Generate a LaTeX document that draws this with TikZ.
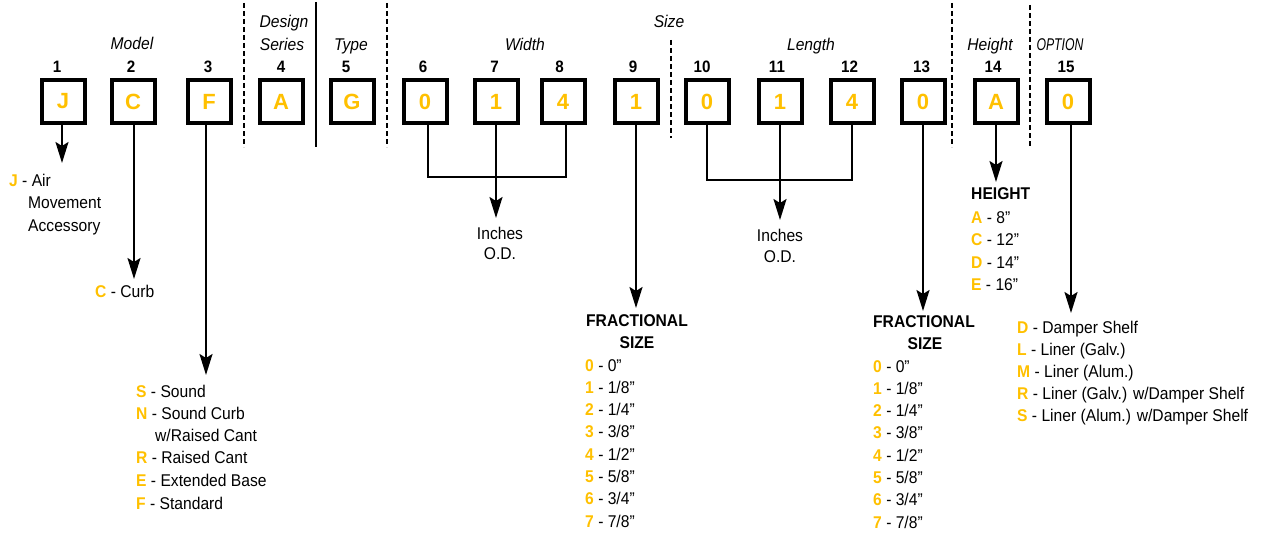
\documentclass[tikz,border=0pt]{standalone}
\usepackage{fontspec}
\setmainfont{Liberation Sans}[FakeStretch=0.92]
\newfontfamily\boxfont{Liberation Sans}
\newfontfamily\optfont{Liberation Sans}[FakeStretch=0.72]
\usetikzlibrary{arrows.meta}
\definecolor{codey}{RGB}{255,192,0}
\newcommand{\cd}[1]{\textbf{\textcolor{codey}{#1}}}
\tikzset{
  cbox/.style={draw, line width=4pt, minimum size=43pt, inner sep=0pt,
    font=\boxfont\bfseries\fontsize{22}{22}\selectfont, text=codey},
  num/.style={anchor=base, inner sep=0pt, font=\bfseries\fontsize{16.5}{16.5}\selectfont},
  grp/.style={anchor=base, inner sep=0pt, font=\itshape\fontsize{17}{17}\selectfont},
  txt/.style={anchor=base west, inner sep=0pt, font=\fontsize{17}{17}\selectfont},
  ctxt/.style={anchor=base, inner sep=0pt, font=\fontsize{17}{17}\selectfont},
  head/.style={anchor=base, inner sep=0pt, font=\bfseries\fontsize{17}{17}\selectfont},
  conn/.style={line width=2pt},
  arr/.style={conn, -{Stealth[length=21pt,width=13pt,inset=4pt]}},
  sepline/.style={line width=2.5pt, dash pattern=on 5pt off 3pt},
}
\begin{document}
\begin{tikzpicture}[x=1pt, y=-1pt]
\useasboundingbox (0,0) rectangle (1261,535);

% boxes
\foreach \i/\x/\l in {1/63/J, 2/133/C, 3/209/F, 4/281/A, 5/352/G, 6/425/0, 7/496/1, 8/563/4,
  9/636/1, 10/707/0, 11/780/1, 12/852/4, 13/923/0, 14/996/A, 15/1068/0}
  \node[cbox] (b\i) at (\x,101.5) {\l};

% position numbers
\foreach \i/\x in {1/57, 2/131, 3/208, 4/281, 5/346, 6/423, 7/494.5, 8/559.5, 9/633,
  10/702, 11/777, 12/849.5, 13/921.5, 14/993, 15/1066}
  \node[num] (n\i) at (\x,73) {\i};

% group labels
\node[grp] (lmodel) at (132,50) {Model};
\node[grp] (ldesign) at (284,28) {Design};
\node[grp] (lseries) at (282,51) {Series};
\node[grp] (ltype) at (351,51) {Type};
\node[grp] (lwidth) at (525,51) {Width};
\node[grp] (lsize) at (669,28) {Size};
\node[grp] (llength) at (811,51) {Length};
\node[grp] (lheight) at (990,51) {Height};
\node[anchor=base, inner sep=0pt, font=\optfont\itshape\fontsize{17}{17}\selectfont] (loption) at (1060,51) {OPTION};

% separators
\draw[sepline] (244,3) -- (244,147);
\draw[line width=1.3pt] (316,2) -- (316,147);
\draw[sepline] (387,3) -- (387,147);
\draw[sepline] (671,40) -- (671,138);
\draw[sepline] (952,3) -- (952,147);
\draw[sepline] (1030,5) -- (1030,148);

% arrow end points
\coordinate (t1) at (62,163);
\coordinate (t2) at (134,279);
\coordinate (t3) at (206,375);
\coordinate (wj) at (496,177);
\coordinate (tw) at (496,218);
\coordinate (t9) at (636,308);
\coordinate (lj) at (780,180);
\coordinate (tl) at (780,220);
\coordinate (t13) at (923,311);
\coordinate (t14) at (996,182);
\coordinate (t15) at (1071,313);

% connectors
\draw[arr] (b1.south -| t1) -- (t1);
\draw[arr] (b2.south -| t2) -- (t2);
\draw[arr] (b3.south -| t3) -- (t3);
\draw[conn] ([xshift=3pt]b6.south) |- (wj) -| ([xshift=3pt]b8.south);
\draw[arr] (b7.south) -- (tw);
\draw[arr] (b9.south) -- (t9);
\draw[conn] (b10.south) |- (lj) -| (b12.south);
\draw[arr] (b11.south) -- (tl);
\draw[arr] (b13.south) -- (t13);
\draw[arr] (b14.south) -- (t14);
\draw[arr] (b15.south -| t15) -- (t15);

% J
\node[txt] (j1) at (9,186) {\cd{J} - Air};
\node[txt] (j2) at (28,208) {Movement};
\node[txt] (j3) at (28,231) {Accessory};

% C
\node[txt] (c1) at (95,297) {\cd{C} - Curb};

% F list
\node[txt] (f1) at (136,397) {\cd{S} - Sound};
\node[txt] (f2) at (136,419) {\cd{N} - Sound Curb};
\node[txt] (f3) at (155,441) {w/Raised Cant};
\node[txt] (f4) at (136,463) {\cd{R} - Raised Cant};
\node[txt] (f5) at (136,486) {\cd{E} - Extended Base};
\node[txt] (f6) at (136,509) {\cd{F} - Standard};

% inches
\node[ctxt] (wi1) at (500,239) {Inches};
\node[ctxt] (wi2) at (500,259) {O.D.};
\node[ctxt] (li1) at (780,241) {Inches};
\node[ctxt] (li2) at (780,262) {O.D.};

% fractional 9
\node[head] (fa) at (637,326) {FRACTIONAL};
\node[head] (fb) at (637,348) {SIZE};
\foreach \v [count=\i from 0] in {0”, 1/8”, 1/4”, 3/8”, 1/2”, 5/8”, 3/4”, 7/8”}
  \node[txt] (fx\i) at (585,{371+22.3*\i}) {\cd{\i} - \v};

% fractional 13
\node[head] (ga) at (924,327) {FRACTIONAL};
\node[head] (gb) at (925,349) {SIZE};
\foreach \v [count=\i from 0] in {0”, 1/8”, 1/4”, 3/8”, 1/2”, 5/8”, 3/4”, 7/8”}
  \node[txt] (gx\i) at (873,{372+22.3*\i}) {\cd{\i} - \v};

% height
\node[anchor=base west, inner sep=0pt, font=\bfseries\fontsize{17}{17}\selectfont] (ha) at (971,199) {HEIGHT};
\node[txt] (h1) at (971,223) {\cd{A} - 8”};
\node[txt] (h2) at (971,245.5) {\cd{C} - 12”};
\node[txt] (h3) at (971,268) {\cd{D} - 14”};
\node[txt] (h4) at (971,290) {\cd{E} - 16”};

% option
\node[txt] (o1) at (1017,333) {\cd{D} - Damper Shelf};
\node[txt] (o2) at (1017,355) {\cd{L} - Liner (Galv.)};
\node[txt] (o3) at (1017,377) {\cd{M} - Liner (Alum.)};
\node[txt] (o4) at (1017,399) {\cd{R} - Liner (Galv.) w/Damper Shelf};
\node[txt] (o5) at (1017,421) {\cd{S} - Liner (Alum.) w/Damper Shelf};
\end{tikzpicture}
\end{document}
